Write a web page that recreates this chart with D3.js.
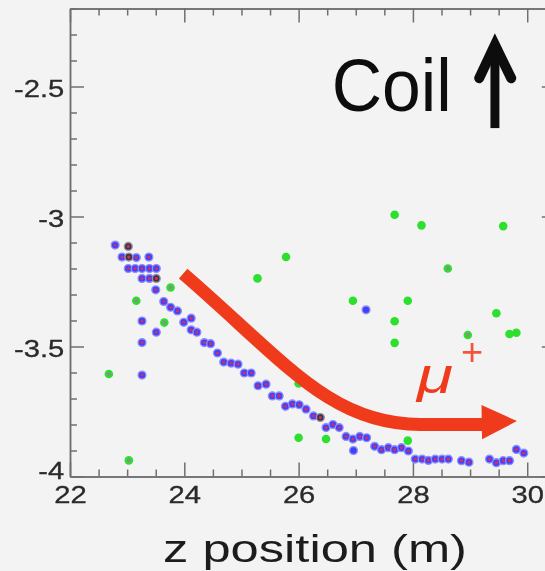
<!DOCTYPE html>
<html lang="en">
  <head>
    <meta charset="UTF-8" />
    <title>z position</title>
    <script src="https://d3js.org/d3.v7.min.js"></script>
    <style>
      body {
        margin: 0;
        background: #f3f3f3;
      }
      text {
        font-family: "Liberation Sans", Arial, sans-serif;
      }
    </style>
  </head>
  <body>
    <div id="chart"></div>
    <script>
      // hits with red centre (blue ring)
      var blueZ = [
        22.79, 22.91, 23.16, 23.38, 23.02, 23.14, 23.26, 23.39, 23.51, 23.26,
        23.39, 23.5, 23.64, 23.76, 23.88, 23.26, 23.99, 24.12, 24.12, 24.22,
        23.51, 23.26, 24.35, 24.46, 24.58, 24.69, 24.82, 24.94, 25.05, 25.17,
        23.26, 25.29, 25.43, 25.54, 25.66, 25.77, 25.89, 26.01, 26.13, 26.26,
        26.48, 26.6, 26.71, 26.83, 26.95, 27.07, 27.19, 27.33, 27.45, 27.57,
        27.68, 27.8, 27.92, 28.04, 28.16, 28.27, 28.39, 28.51, 28.62, 28.85,
        28.98, 29.34, 29.46, 29.58, 29.69, 29.81, 29.94
      ];
      var blueY = [
        -3.11, -3.156, -3.158, -3.156, -3.2, -3.2, -3.2, -3.2, -3.2, -3.238,
        -3.238, -3.282, -3.327, -3.349, -3.363, -3.402, -3.407, -3.391, -3.436,
        -3.445, -3.445, -3.485, -3.485, -3.489, -3.525, -3.56, -3.564, -3.568,
        -3.602, -3.602, -3.61, -3.651, -3.645, -3.69, -3.69, -3.73, -3.721,
        -3.724, -3.741, -3.767, -3.812, -3.8, -3.812, -3.846, -3.856, -3.846,
        -3.851, -3.884, -3.897, -3.889, -3.897, -3.889, -3.902, -3.933, -3.933,
        -3.938, -3.933, -3.933, -3.933, -3.939, -3.945, -3.933, -3.947, -3.939,
        -3.939, -3.896, -3.91
      ];
      // plain blue hits
      var soloZ = [27.18, 26.96];
      var soloY = [-3.359, -3.9];
      // dark hits
      var darkZ = [23.02, 23.03, 23.51, 26.38];
      var darkY = [-3.115, -3.156, -3.238, -3.773];
      // green hits, core = gray centre
      var greenZ = [
        22.68, 23.16, 23.65, 23.76, 23.03, 25.28, 25.78, 26.0, 26.0, 26.48,
        27.91, 27.68, 28.15, 29.58, 28.61, 26.95, 27.91, 27.68, 27.68, 29.46,
        28.96, 29.69, 29.81
      ];
      var greenY = [
        -3.606, -3.324, -3.408, -3.273, -3.938, -3.238, -3.156, -3.642, -3.851,
        -3.856, -3.862, -2.993, -3.034, -3.037, -3.2, -3.324, -3.324, -3.403,
        -3.486, -3.372, -3.456, -3.452, -3.447
      ];
      var greenCore = [
        1, 1, 1, 1, 1, 0, 0, 0, 0, 0, 0, 0, 0, 0, 1, 0, 0, 0, 0, 0, 1, 0, 0
      ];

      var xMajor = [22, 24, 26, 28, 30];
      var yMajor = [-4, -3.5, -3, -2.5];

      // annotations (data units)
      var muonPath = [
        [23.98, -3.22],
        [25.77, -3.56],
        [26.56, -3.8],
        [28.13, -3.8],
        [29.24, -3.8]
      ];
      var muonHead = [
        [29.2, -3.725],
        [29.82, -3.787],
        [29.21, -3.857]
      ];
      var coilArrow = [
        [29.435, -2.66],
        [29.435, -2.35]
      ];
      var coilWing = [
        [29.16, -2.468],
        [29.435, -2.34],
        [29.72, -2.468]
      ];

      var w = 545;
      var h = 571;

      var x = d3.scaleLinear().domain([22, 30.5]).range([70, 555.8]);
      var y = d3.scaleLinear().domain([-4, -2.2]).range([476.5, 8.5]);

      var svg = d3
        .select("#chart")
        .append("svg")
        .attr("width", w)
        .attr("height", h);

      svg.append("rect").attr("width", w).attr("height", h).attr("fill", "#f3f3f3");

      // blur filters with a big fixed region (thin or transformed shapes are kept)
      var defs = svg.append("defs");
      [["soft", 0.6], ["txt", 0.35]].forEach((f) => {
        defs
          .append("filter")
          .attr("id", f[0])
          .attr("filterUnits", "userSpaceOnUse")
          .attr("x", -1000)
          .attr("y", -1000)
          .attr("width", 3000)
          .attr("height", 3000)
          .append("feGaussianBlur")
          .attr("stdDeviation", f[1]);
      });

      // frame and ticks
      function styleAxis(g) {
        g.selectAll("path, line").attr("stroke", "#6f6f6f").attr("stroke-width", 1.5);
        g.selectAll("text")
          .attr("fill", "#2a2a2a")
          .style("font-size", "23px")
          .attr("stroke", "#2a2a2a")
          .attr("stroke-width", 0.3)
          .attr("filter", "url(#txt)")
          .attr("font-family", "Liberation Sans, Arial, sans-serif");
      }

      var xMinor = d3.range(22, 30.51, 0.5).filter((d) => xMajor.indexOf(d) < 0);
      var yMinor = d3.range(-40, -21, 1).map((d) => d / 10).filter((d) => yMajor.indexOf(d) < 0);

      var fmt = (d) => String(d);

      // bottom
      svg.append("g")
        .attr("transform", "translate(0," + y(-4) + ")")
        .call(d3.axisBottom(x).tickValues(xMinor).tickSizeInner(-7).tickSizeOuter(0).tickFormat(""))
        .call(styleAxis);
      var bottom = svg.append("g")
        .attr("transform", "translate(0," + y(-4) + ")")
        .call(d3.axisBottom(x).tickValues(xMajor).tickSizeInner(-14).tickSizeOuter(0).tickPadding(10.5).tickFormat(fmt))
        .call(styleAxis);
      bottom.selectAll("text").attr("transform", "scale(1.27,1)");

      // top
      svg.append("g")
        .attr("transform", "translate(0," + y(-2.2) + ")")
        .call(d3.axisTop(x).tickValues(xMinor).tickSizeInner(-7).tickSizeOuter(0).tickFormat(""))
        .call(styleAxis);
      svg.append("g")
        .attr("transform", "translate(0," + y(-2.2) + ")")
        .call(d3.axisTop(x).tickValues(xMajor).tickSizeInner(-14).tickSizeOuter(0).tickFormat(""))
        .call(styleAxis);

      // left
      svg.append("g")
        .attr("transform", "translate(" + x(22) + ",0)")
        .call(d3.axisLeft(y).tickValues(yMinor).tickSizeInner(-7).tickSizeOuter(0).tickFormat(""))
        .call(styleAxis);
      var left = svg.append("g")
        .attr("transform", "translate(" + x(22) + ",0)")
        .call(d3.axisLeft(y).tickValues(yMajor).tickSizeInner(-14).tickSizeOuter(0).tickPadding(4.5).tickFormat(fmt))
        .call(styleAxis);
      left.selectAll("text")
        .attr("transform", "scale(1.27,1)")
        .attr("dy", (d) => (d === -4 ? "0.1em" : "0.42em"));

      // right
      svg.append("g")
        .attr("transform", "translate(" + x(30.5) + ",0)")
        .call(d3.axisRight(y).tickValues(yMinor).tickSizeInner(-7).tickSizeOuter(0).tickFormat(""))
        .call(styleAxis);
      svg.append("g")
        .attr("transform", "translate(" + x(30.5) + ",0)")
        .call(d3.axisRight(y).tickValues(yMajor).tickSizeInner(-14).tickSizeOuter(0).tickFormat(""))
        .call(styleAxis);

      // points
      var pts = svg.append("g").attr("filter", "url(#soft)");

      var green = greenZ.map((z, i) => ({ z: z, v: greenY[i], core: greenCore[i] }));
      pts.selectAll(".g")
        .data(green)
        .enter()
        .append("circle")
        .attr("cx", (d) => x(d.z))
        .attr("cy", (d) => y(d.v))
        .attr("r", 4.3)
        .attr("fill", "#2de02d");
      pts.selectAll(".gc")
        .data(green.filter((d) => d.core))
        .enter()
        .append("circle")
        .attr("cx", (d) => x(d.z))
        .attr("cy", (d) => y(d.v))
        .attr("r", 2)
        .attr("fill", "#8c8c8c");

      var blue = blueZ.map((z, i) => ({ z: z, v: blueY[i] }));
      var solo = soloZ.map((z, i) => ({ z: z, v: soloY[i] }));
      var dark = darkZ.map((z, i) => ({ z: z, v: darkY[i] }));

      pts.selectAll(".b")
        .data(blue.concat(solo))
        .enter()
        .append("circle")
        .attr("cx", (d) => x(d.z))
        .attr("cy", (d) => y(d.v))
        .attr("r", 3.9)
        .attr("fill", "#4040ff")
        .attr("stroke", "#8f8ff5")
        .attr("stroke-width", 1.4);
      pts.selectAll(".d")
        .data(dark)
        .enter()
        .append("circle")
        .attr("cx", (d) => x(d.z))
        .attr("cy", (d) => y(d.v))
        .attr("r", 3.9)
        .attr("fill", "#3b3340")
        .attr("stroke", "#9a90a8")
        .attr("stroke-width", 1.4);
      pts.selectAll(".bc")
        .data(blue.concat(dark))
        .enter()
        .append("circle")
        .attr("cx", (d) => x(d.z))
        .attr("cy", (d) => y(d.v))
        .attr("r", 1.6)
        .attr("fill", "#cf2f5f");

      // muon track arrow
      var red = "#ef3b1d";
      var mp = muonPath.map((p) => [x(p[0]), y(p[1])]);
      svg.append("path")
        .attr("d", "M" + mp[0] + "C" + mp[1] + " " + mp[2] + " " + mp[3] + "L" + mp[4])
        .attr("fill", "none")
        .attr("stroke", red)
        .attr("stroke-width", 13)
        .attr("filter", "url(#soft)");
      svg.append("path")
        .attr("d", d3.line()(muonHead.map((p) => [x(p[0]), y(p[1])])) + "Z")
        .attr("fill", red)
        .attr("filter", "url(#soft)");

      svg.append("text")
        .attr("x", x(28.07))
        .attr("y", y(-3.678))
        .attr("font-family", "Liberation Serif, serif")
        .attr("font-style", "italic")
        .attr("font-size", 50)
        .attr("fill", red)
        .attr("textLength", 36)
        .attr("lengthAdjust", "spacingAndGlyphs")
        .attr("filter", "url(#txt)")
        .text("μ");
      svg.append("text")
        .attr("x", x(29.035))
        .attr("y", y(-3.573))
        .attr("text-anchor", "middle")
        .attr("font-size", 38)
        .attr("font-weight", 300)
        .attr("fill", red)
        .attr("opacity", 0.85)
        .attr("filter", "url(#txt)")
        .text("+");

      // coil label
      svg.append("text")
        .attr("x", x(26.58))
        .attr("y", y(-2.596))
        .attr("font-family", "Lato, sans-serif")
        .attr("font-size", 74)
        .attr("fill", "#111")
        .attr("textLength", 120)
        .attr("lengthAdjust", "spacingAndGlyphs")
        .attr("filter", "url(#txt)")
        .text("Coil");
      svg.append("path")
        .attr("d", d3.line()(coilArrow.map((p) => [x(p[0]), y(p[1])])))
        .attr("stroke", "#111")
        .attr("stroke-width", 9)
        .attr("filter", "url(#txt)");
      svg.append("path")
        .attr("d", d3.line()(coilWing.map((p) => [x(p[0]), y(p[1])])))
        .attr("fill", "none")
        .attr("stroke", "#111")
        .attr("stroke-width", 10)
        .attr("stroke-linecap", "round")
        .attr("filter", "url(#txt)");

      // axis title
      svg.append("text")
        .attr("x", 315)
        .attr("y", 562)
        .attr("text-anchor", "middle")
        .attr("font-size", 38)
        .attr("fill", "#1e1e1e")
        .attr("textLength", 304)
        .attr("lengthAdjust", "spacingAndGlyphs")
        .attr("filter", "url(#txt)")
        .text("z position (m)");
    </script>
  </body>
</html>
